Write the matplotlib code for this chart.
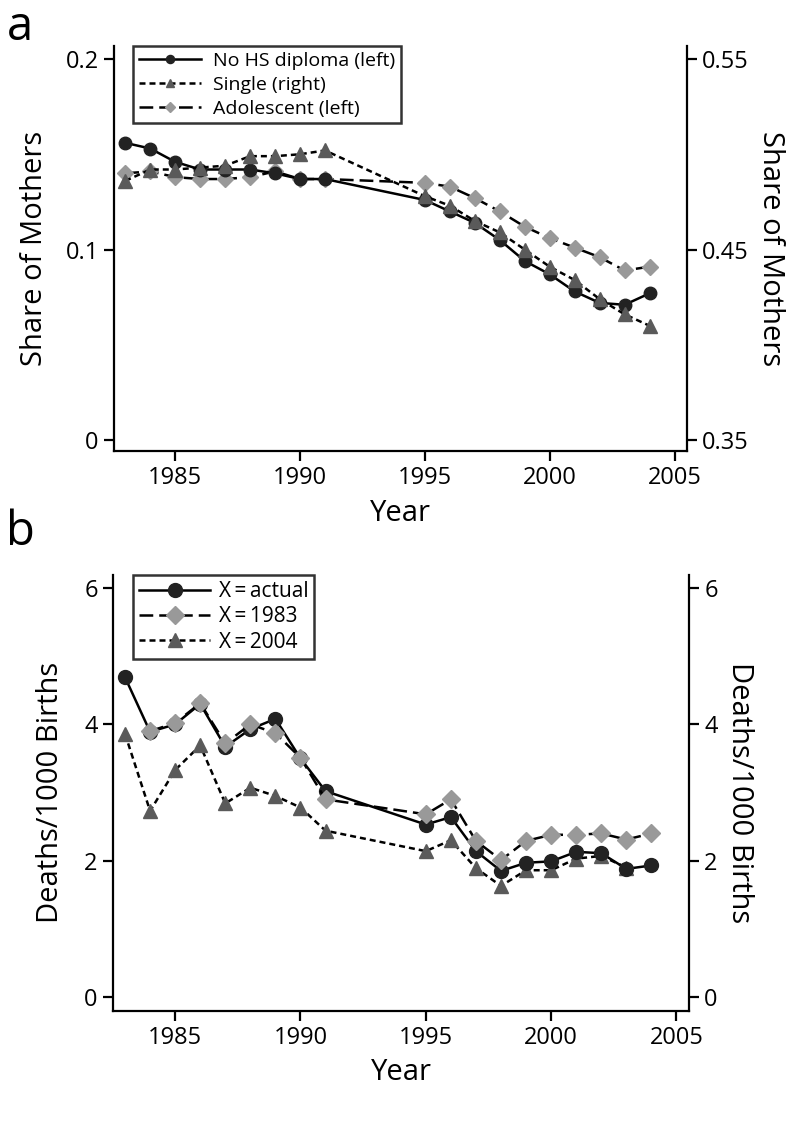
import matplotlib
matplotlib.use("Agg")
import matplotlib.pyplot as plt

plt.rcParams['font.family'] = ['Open Sans', 'DejaVu Sans']

# panel a data
years_a = [1983, 1984, 1985, 1986, 1987, 1988, 1989, 1990, 1991,
           1995, 1996, 1997, 1998, 1999, 2000, 2001, 2002, 2003, 2004]
no_hs = [0.156, 0.153, 0.146, 0.142, 0.142, 0.142, 0.140, 0.137, 0.137,
         0.126, 0.120, 0.114, 0.105, 0.094, 0.087, 0.078, 0.072, 0.071, 0.077]
single = [0.486, 0.492, 0.492, 0.493, 0.494, 0.499, 0.499, 0.500, 0.502,
          0.478, 0.473, 0.465, 0.459, 0.450, 0.441, 0.434, 0.424, 0.416, 0.410]
adolescent = [0.140, 0.141, 0.138, 0.137, 0.137, 0.138, 0.141, 0.137, 0.137,
              0.135, 0.133, 0.127, 0.120, 0.112, 0.106, 0.101, 0.096, 0.089, 0.091]

# panel b data
years_b = years_a
actual = [4.69, 3.89, 4.00, 4.30, 3.67, 3.93, 4.08, 3.50, 3.02,
          2.53, 2.64, 2.14, 1.85, 1.97, 1.99, 2.13, 2.11, 1.88, 1.93]
years_1983 = years_b[1:]
x1983 = [3.90, 4.02, 4.31, 3.72, 4.00, 3.87, 3.51, 2.90,
         2.68, 2.90, 2.29, 2.01, 2.29, 2.38, 2.38, 2.40, 2.31, 2.40]
years_2004 = years_b[:-1]
x2004 = [3.86, 2.73, 3.33, 3.69, 2.84, 3.07, 2.95, 2.78, 2.44,
         2.14, 2.30, 1.89, 1.63, 1.86, 1.86, 2.03, 2.07, 1.90]

BLACK = '#222222'
DGRAY = '#5a5a5a'
LGRAY = '#999999'
LW = 1.8
SHORT = (2.4, 1.6)
LONG = (5.5, 2.4)
TICK_FS = 17
LAB_FS = 21


def style_axes(ax, right=False):
    ax.spines['top'].set_visible(False)
    if not right:
        ax.spines['right'].set_visible(False)
    for s in ax.spines.values():
        s.set_linewidth(1.6)
    ax.tick_params(width=1.6, length=7, labelsize=TICK_FS, pad=4, direction='out')


fig = plt.figure(figsize=(7.98, 11.45), dpi=100)

# ---- panel a ----
ax1 = fig.add_axes([0.1429, 0.606, 0.7180, 0.3538])
ax1r = ax1.twinx()
ax1.set_xlim(1982.55, 2005.5)
ax1.set_ylim(-0.0058, 0.2068)
ax1r.set_ylim(-0.0058 + 0.35, 0.2068 + 0.35)

h1, = ax1.plot(years_a, no_hs, color='black', lw=LW, marker='o', ms=9,
               mfc=BLACK, mec=BLACK, label='No HS diploma (left)', zorder=3)
h3, = ax1.plot(years_a, adolescent, color='black', lw=LW, dashes=LONG, marker='D',
               ms=8.5, mfc=LGRAY, mec=LGRAY, label='Adolescent (left)', zorder=2)
h2, = ax1r.plot(years_a, single, color='black', lw=LW, dashes=SHORT, marker='^',
                ms=9.5, mfc=DGRAY, mec=DGRAY, label='Single (right)')

ax1.set_xticks([1985, 1990, 1995, 2000, 2005])
ax1.set_yticks([0, 0.1, 0.2])
ax1.set_yticklabels(['0', '0.1', '0.2'])
ax1r.set_yticks([0.35, 0.45, 0.55])
ax1r.set_yticklabels(['0.35', '0.45', '0.55'])
style_axes(ax1)
style_axes(ax1r, right=True)
ax1r.spines['left'].set_visible(False)
ax1r.spines['bottom'].set_visible(False)
ax1.set_xlabel('Year', fontsize=LAB_FS, labelpad=6)
ax1.set_ylabel('Share of Mothers', fontsize=LAB_FS, labelpad=12)
ax1r.set_ylabel('Share of Mothers', fontsize=LAB_FS, rotation=270, labelpad=26)

leg = ax1r.legend([h1, h2, h3], [h1.get_label(), h2.get_label(), h3.get_label()],
                  loc='upper left', bbox_to_anchor=(0.033, 1.0), fontsize=14,
                  markerscale=0.65, handlelength=3.2, frameon=True, fancybox=False,
                  borderpad=0.3, labelspacing=0.3, handletextpad=0.6,
                  borderaxespad=0.0)
leg.get_frame().set_edgecolor('black')
leg.get_frame().set_linewidth(1.8)

fig.text(0.008, 0.976, 'a', fontsize=34, va='center', ha='left')

# ---- panel b ----
ax2 = fig.add_axes([0.1416, 0.1173, 0.7218, 0.3805])
ax2r = ax2.twinx()
ax2.set_xlim(1982.52, 2005.5)
ax2.set_ylim(-0.2, 6.19)
ax2r.set_ylim(-0.2, 6.19)

g1, = ax2.plot(years_b, actual, color='black', lw=LW, marker='o', ms=10,
               mfc=BLACK, mec=BLACK, label='X\u2009=\u2009actual', zorder=3)
g2, = ax2.plot(years_1983, x1983, color='black', lw=LW, dashes=LONG, marker='D',
               ms=9.5, mfc=LGRAY, mec=LGRAY, label='X\u2009=\u20091983', zorder=4)
g3, = ax2.plot(years_2004, x2004, color='black', lw=LW, dashes=SHORT, marker='^',
               ms=10, mfc=DGRAY, mec=DGRAY, label='X\u2009=\u20092004', zorder=2)

ax2.set_xticks([1985, 1990, 1995, 2000, 2005])
ax2.set_yticks([0, 2, 4, 6])
ax2r.set_yticks([0, 2, 4, 6])
style_axes(ax2)
style_axes(ax2r, right=True)
ax2r.spines['left'].set_visible(False)
ax2r.spines['bottom'].set_visible(False)
ax2.set_xlabel('Year', fontsize=LAB_FS, labelpad=6)
ax2.set_ylabel('Deaths/1000 Births', fontsize=LAB_FS, labelpad=14)
ax2r.set_ylabel('Deaths/1000 Births', fontsize=LAB_FS, rotation=270, labelpad=26)

leg2 = ax2.legend(loc='upper left', bbox_to_anchor=(0.035, 1.0), fontsize=15,
                  markerscale=1.0, handlelength=3.4, frameon=True, fancybox=False,
                  borderpad=0.3, labelspacing=0.2, handletextpad=0.4,
                  borderaxespad=0.0)
leg2.get_frame().set_edgecolor('black')
leg2.get_frame().set_linewidth(1.8)

fig.text(0.008, 0.535, 'b', fontsize=34, va='center', ha='left')

fig.savefig('out.png', dpi=100)
